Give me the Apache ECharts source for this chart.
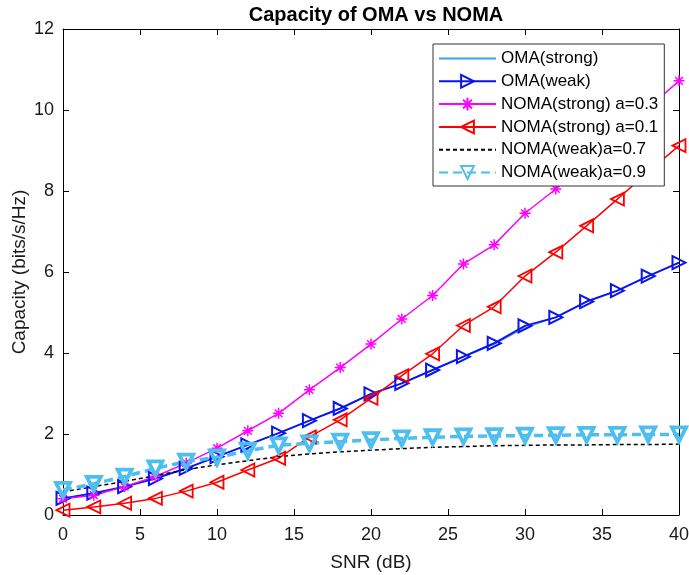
<!DOCTYPE html>
<html>
<head>
<meta charset="utf-8">
<script src="https://cdn.jsdelivr.net/npm/echarts@6/dist/echarts.min.js"></script>
<style>html,body{margin:0;padding:0;background:#fff;}#c{width:689px;height:575px;}</style>
</head>
<body>
<div id="c"></div>
<script>
var snr = [0,2,4,6,8,10,12,14,16,18,20,22,24,26,28,30,32,34,36,38,40];
var omaStrong = [0.41,0.54,0.70,0.90,1.15,1.44,1.73,2.02,2.33,2.63,2.99,3.25,3.58,3.90,4.21,4.62,4.88,5.27,5.54,5.90,6.23];
var omaWeak = [0.41,0.54,0.70,0.90,1.15,1.44,1.73,2.02,2.33,2.63,2.99,3.25,3.58,3.91,4.24,4.67,4.88,5.27,5.54,5.90,6.23];
var nomaStrong03 = [0.40,0.49,0.70,0.95,1.28,1.65,2.08,2.51,3.09,3.64,4.22,4.84,5.42,6.20,6.67,7.45,8.05,8.72,9.38,10.05,10.72];
var nomaStrong01 = [0.12,0.20,0.29,0.41,0.59,0.81,1.11,1.40,1.93,2.35,2.88,3.44,3.98,4.68,5.14,5.90,6.49,7.14,7.80,8.47,9.12];
var nomaWeak07 = [0.57,0.70,0.83,0.97,1.12,1.24,1.34,1.44,1.51,1.56,1.60,1.64,1.67,1.69,1.71,1.72,1.73,1.73,1.74,1.74,1.75];
var nomaWeak09 = [0.62,0.77,0.95,1.15,1.32,1.42,1.59,1.72,1.77,1.81,1.85,1.89,1.92,1.94,1.95,1.96,1.97,1.98,1.98,1.99,1.99];
var xTicks = [0,5,10,15,20,25,30,35,40];
var yTicks = [0,2,4,6,8,10,12];

function pairs(ys){ return snr.map(function(x,i){ return [x, ys[i]]; }); }
var font = 'Liberation Sans, Arial, sans-serif';
var star = 'path://M0,-10L0,10M-10,0L10,0M-7,-7L7,7M-7,7L7,-7';

var chart = echarts.init(document.getElementById('c'), null, {renderer:'canvas'});
function mkX(pos, show){
  return {type:'value', min:xTicks[0], max:xTicks[xTicks.length-1], interval:xTicks[1]-xTicks[0], position:pos,
    axisLine:{show:true, onZero:false, lineStyle:{color:'#000', width:1}},
    axisTick:{show:true, inside:true, length:6, lineStyle:{color:'#000'}},
    axisLabel:{show:show, color:'#1a1a1a', fontSize:18, fontFamily:font, margin:11},
    splitLine:{show:false}};
}
function mkY(pos, show){
  return {type:'value', min:yTicks[0], max:yTicks[yTicks.length-1], interval:yTicks[1]-yTicks[0], position:pos,
    axisLine:{show:true, onZero:false, lineStyle:{color:'#000', width:1}},
    axisTick:{show:true, inside:true, length:6, lineStyle:{color:'#000'}},
    axisLabel:{show:show, color:'#1a1a1a', fontSize:18, fontFamily:font, margin:9},
    splitLine:{show:false}};
}
var xa = mkX('bottom', true);
xa.name = 'SNR (dB)'; xa.nameLocation = 'middle'; xa.nameGap = 38; xa.nameMoveOverlap = false;
xa.nameTextStyle = {fontSize:19, fontFamily:font, color:'#1a1a1a'};
var ya = mkY('left', true);
ya.name = 'Capacity (bits/s/Hz)'; ya.nameLocation = 'middle'; ya.nameGap = 34; ya.nameMoveOverlap = false;
ya.nameTextStyle = {fontSize:19, fontFamily:font, color:'#1a1a1a'};

function ser(name, data, color, lw, symbol, size, rot, dash, bw){
  var none = symbol === 'none';
  return {name:name, type:'line', data:pairs(data), xAxisIndex:0, yAxisIndex:0,
    symbol:symbol, symbolSize:size, symbolRotate:rot, showSymbol: !none,
    color:color,
    lineStyle:{color:color, width:lw, type:dash||'solid'},
    itemStyle: none ? {color:'rgba(255,255,255,0)', borderWidth:0, borderColor:'rgba(255,255,255,0)'}
                    : {color:'rgba(255,255,255,0)', borderColor:color, borderWidth:bw||1.5},
    emphasis:{disabled:true}, animation:false, z:2};
}

chart.setOption({
  animation:false,
  title:{text:'Capacity of OMA vs NOMA', left:371, textAlign:'center', top:0,
    textStyle:{fontSize:20, fontWeight:'bold', fontFamily:font, color:'#000'}},
  grid:{left:63, right:10, top:29, bottom:60, containLabel:false, outerBoundsMode:'none'},
  xAxis:[xa, mkX('top', false)],
  yAxis:[ya, mkY('right', false)],
  legend:{orient:'vertical', left:433, top:44, backgroundColor:'#fff',
    borderColor:'#333', borderWidth:1, padding:[6,6,5,5], itemGap:5.8,
    itemWidth:57, itemHeight:16,
    textStyle:{fontSize:17, fontFamily:font, color:'#000', lineHeight:16},
    data:['OMA(strong)','OMA(weak)','NOMA(strong) a=0.3','NOMA(strong) a=0.1','NOMA(weak)a=0.7','NOMA(weak)a=0.9']},
  series:[
    ser('OMA(strong)', omaStrong, '#3d9fe6', 1, 'none', 0, 0),
    ser('OMA(weak)', omaWeak, '#0a14f0', 2, 'triangle', 13, -90, 'solid', 2),
    ser('NOMA(strong) a=0.3', nomaStrong03, '#ff00ff', 1.5, star, 11, 0, 'solid', 1.5),
    ser('NOMA(strong) a=0.1', nomaStrong01, '#ff0000', 1.5, 'triangle', 13, 90, 'solid', 1.8),
    ser('NOMA(weak)a=0.7', nomaWeak07, '#000000', 1.5, 'none', 0, 0, [4,3]),
    ser('NOMA(weak)a=0.9', nomaWeak09, '#4dbeee', 3.5, 'triangle', 14, 180, [9,5], 3.8)
  ]
});
</script>
</body>
</html>
